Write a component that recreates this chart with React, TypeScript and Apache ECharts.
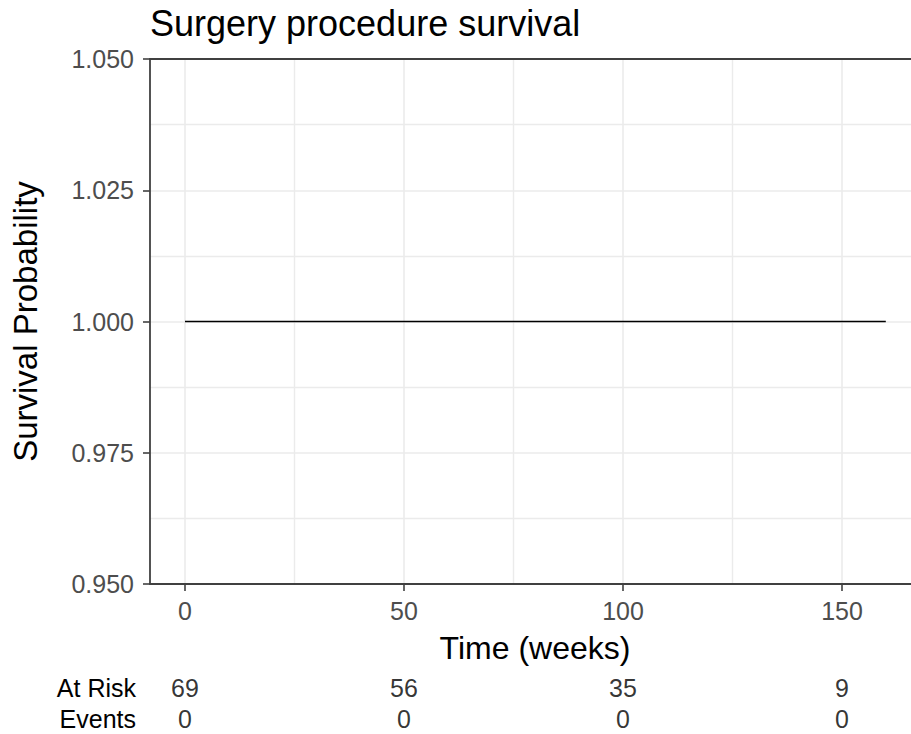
import React, { useEffect, useRef } from "react";
import * as echarts from "echarts";

const timeWeeks = [0, 160];
const survival = [1.0, 1.0];
const timeTicks = [0, 50, 100, 150];
const riskTimes = [0, 50, 100, 150];
const atRisk = [69, 56, 35, 9];
const events = [0, 0, 0, 0];
const riskRows = ["Events", "At Risk"];

const FONT = "'Liberation Sans', Arial, sans-serif";
const AXIS_COLOR = "#404040";
const LABEL_COLOR = "#4d4d4d";
const GRID_COLOR = "#ebebeb";

const hiddenAxis = {
  show: false,
  axisLine: { show: false, onZero: false },
  axisTick: { show: false },
  axisLabel: { show: false },
  splitLine: { show: false },
};

export default function App() {
  const ref = useRef<HTMLDivElement>(null);
  useEffect(() => {
    if (!ref.current) return;
    const chart = echarts.init(ref.current, null, { renderer: "svg" });
    const riskData: any[] = [];
    riskTimes.forEach((t, i) => {
      riskData.push([t, "At Risk", atRisk[i]]);
      riskData.push([t, "Events", events[i]]);
    });
    chart.setOption({
      animation: false,
      backgroundColor: "#ffffff",
      textStyle: { fontFamily: FONT },
      title: {
        text: "Surgery procedure survival",
        left: 150,
        top: 5,
        padding: 0,
        textStyle: { fontSize: 36, fontWeight: "normal", color: "#000", fontFamily: FONT },
      },
      grid: [
        { left: 150, right: -40.5, top: 59, bottom: 150, outerBoundsMode: "none", containLabel: false },
        { left: 185, right: -150, top: 59, bottom: 150, outerBoundsMode: "none", containLabel: false },
        { left: 185, right: -150, top: 672, bottom: 0, outerBoundsMode: "none", containLabel: false },
      ],
      xAxis: [
        {
          type: "value", gridIndex: 0, position: "bottom", min: -8, max: 175, z: 5,
          axisLine: { show: true, onZero: false, lineStyle: { color: AXIS_COLOR, width: 1.8 } },
          axisTick: { show: false }, axisLabel: { show: false }, splitLine: { show: false },
        },
        {
          type: "value", gridIndex: 0, position: "top", min: -8, max: 175, z: 5,
          axisLine: { show: true, onZero: false, lineStyle: { color: AXIS_COLOR, width: 1.8 } },
          axisTick: { show: false }, axisLabel: { show: false }, splitLine: { show: false },
        },
        {
          type: "value", gridIndex: 1, position: "bottom", min: 0, max: 200, interval: 50,
          axisLine: { show: false, onZero: false },
          axisTick: { show: true, length: 7, lineStyle: { color: AXIS_COLOR, width: 1.6 } },
          axisLabel: {
            show: true, margin: 14, fontSize: 25, color: LABEL_COLOR, fontFamily: FONT,
            formatter: (v: number) => (timeTicks.indexOf(v) >= 0 ? String(v) : ""),
          },
          splitLine: { show: true, lineStyle: { color: GRID_COLOR, width: 1.6 } },
          minorTick: { show: false, splitNumber: 2 },
          minorSplitLine: { show: true, lineStyle: { color: GRID_COLOR, width: 1.4 } },
        },
        { type: "value", gridIndex: 2, min: 0, max: 200, ...hiddenAxis },
      ],
      yAxis: [
        {
          type: "value", gridIndex: 0, min: 0.95, max: 1.05, interval: 0.025,
          name: "Survival Probability", nameLocation: "middle", nameGap: 108,
          nameTextStyle: { fontSize: 33, color: "#000", fontFamily: FONT },
          axisLine: { show: true, onZero: false, lineStyle: { color: AXIS_COLOR, width: 1.8 } },
          axisTick: { show: true, length: 7, lineStyle: { color: AXIS_COLOR, width: 1.6 } },
          axisLabel: {
            show: true, margin: 16, fontSize: 25, color: LABEL_COLOR, fontFamily: FONT,
            formatter: (v: number) => v.toFixed(3),
          },
          splitLine: { show: true, lineStyle: { color: GRID_COLOR, width: 1.6 } },
          minorTick: { show: false, splitNumber: 2 },
          minorSplitLine: { show: true, lineStyle: { color: GRID_COLOR, width: 1.4 } },
        },
        { type: "value", gridIndex: 1, min: 0.95, max: 1.05, ...hiddenAxis },
        {
          type: "category", gridIndex: 2, data: riskRows,
          axisLine: { show: false, onZero: false }, axisTick: { show: false }, splitLine: { show: false },
          axisLabel: { show: true, interval: 0, margin: 49, fontSize: 25, color: "#000", fontFamily: FONT },
        },
      ],
      graphic: [
        {
          type: "text", x: 535, y: 632,
          style: {
            text: "Time (weeks)", fontSize: 32, fill: "#000", fontFamily: FONT,
            textAlign: "center", textVerticalAlign: "top",
          },
        },
      ],
      series: [
        {
          type: "line", xAxisIndex: 2, yAxisIndex: 1, step: "end",
          data: timeWeeks.map((t, i) => [t, survival[i]]),
          symbol: "none", lineStyle: { color: "#000", width: 1.7 },
        },
        {
          type: "scatter", xAxisIndex: 3, yAxisIndex: 2,
          data: riskData, symbolSize: 1, itemStyle: { color: "transparent" },
          label: {
            show: true, position: "inside", fontSize: 25, color: "#000", fontFamily: FONT,
            formatter: (p: any) => String(p.value[2]),
          },
        },
      ],
    });
    return () => chart.dispose();
  }, []);
  return (
    <div
      ref={ref}
      style={{ position: "absolute", left: 0, top: 0, width: 911, height: 734 }}
    />
  );
}
